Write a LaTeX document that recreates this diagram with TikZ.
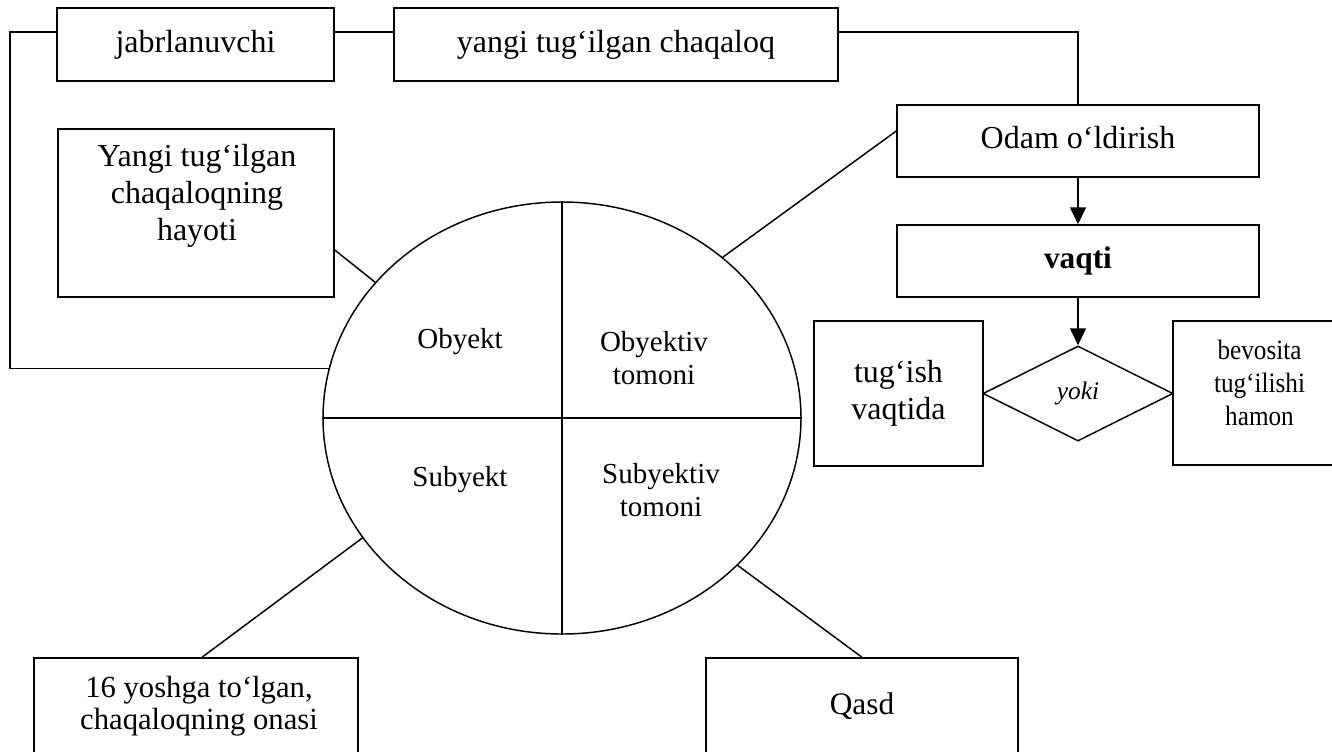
\documentclass[tikz,border=0pt]{standalone}
\usepackage{fontspec}
\setmainfont{Liberation Serif}
\newfontfamily\narrowfont[FakeStretch=0.9]{Liberation Serif}
\usetikzlibrary{shapes.geometric,arrows.meta,calc}

\tikzset{
  box/.style={draw, line width=1.1pt, inner sep=0pt, align=center, font=\fontsize{24}{28}\selectfont},
  oneline/.style={text height=16.8pt, text depth=5.5pt},
  boxtext/.style={inner sep=0pt, align=center, font=\fontsize{24}{28}\selectfont},
  parttext/.style={inner sep=0pt, align=center, font=\fontsize{21.75}{24.75}\selectfont},
  link/.style={line width=1.1pt},
  arr/.style={line width=1.1pt, -{Triangle[length=12.75pt, width=12pt]}}
}

\begin{document}
\begin{tikzpicture}[x=0.75pt,y=0.75pt,yscale=-1,xscale=1]
    \useasboundingbox (0,0) rectangle (1332,751);
    \clip (0,0) rectangle (1332,751);

    %Shape: Ellipse [id:circ]
    \node[draw, line width=1.1pt, ellipse, inner sep=0pt, minimum width=358.5pt, minimum height=324pt] (circ) at (562,418) {};
    %Straight Lines [id:quadrants]
    \draw[link] (circ.west) -- (circ.east);
    \draw[link] (circ.north) -- (circ.south);

    % Text Node
    \node[parttext] (obyekt) at (460,342) {Obyekt};
    % Text Node
    \node[parttext] (obtomon) at (654,358) {Obyektiv\\tomoni};
    % Text Node
    \node[parttext] (subyekt) at (460,480) {Subyekt};
    % Text Node
    \node[parttext] (subtomon) at (661,490) {Subyektiv\\tomoni};

    %Shape: Rectangle [id:jabr]
    \node[box, oneline, minimum width=207.75pt, minimum height=54.75pt] (jabr) at (195.5,44.5) {jabrlanuvchi};
    %Shape: Rectangle [id:yangi]
    \node[box, oneline, minimum width=333pt, minimum height=54.75pt] (yangi) at (616,44.5) {yangi tug‘ilgan chaqaloq};
    %Shape: Rectangle [id:odam]
    \node[box, oneline, minimum width=271.5pt, minimum height=54pt] (odam) at (1078,141) {Odam o‘ldirish};
    %Shape: Rectangle [id:vaqti]
    \node[box, oneline, minimum width=271.5pt, minimum height=54pt, font=\fontsize{23.5}{28}\selectfont\bfseries] (vaqti) at (1078,261) {vaqti};
    %Shape: Diamond [id:yoki]
    \node[draw, line width=1.1pt, diamond, inner sep=0pt, minimum width=142.5pt, minimum height=71.25pt, font=\fontsize{19}{22}\selectfont\itshape] (yoki) at (1078,393.5) {yoki};
    %Shape: Rectangle [id:tugish]
    \node[box, minimum width=126.75pt, minimum height=108.75pt] (tugish) at (898.5,393.5) {tug‘ish\\vaqtida};
    %Shape: Rectangle [id:bevosita]
    \node[box, minimum width=129pt, minimum height=108pt] (bevosita) at (1259,393) {};
    % Text Node
    \node[boxtext, font=\narrowfont\fontsize{21}{25}\selectfont] (bevositatxt) at (1259.5,383) {bevosita\\tug‘ilishi\\hamon};
    %Shape: Rectangle [id:hayoti]
    \node[box, minimum width=207pt, minimum height=126pt] (hayoti) at (196,213) {};
    % Text Node
    \node[boxtext] (hayotitxt) at (197,196) {Yangi tug‘ilgan\\chaqaloqning\\hayoti};
    %Shape: Rectangle [id:yosh]
    \node[box, minimum width=243pt, minimum height=76.5pt] (yosh) at (196,709) {};
    % Text Node
    \node[boxtext, font=\fontsize{23}{24}\selectfont] (yoshtxt) at (199,706) {16 yoshga to‘lgan,\\chaqaloqning onasi};
    %Shape: Rectangle [id:qasd]
    \node[box, oneline, font=\fontsize{23.5}{28}\selectfont, minimum width=234pt, minimum height=73.5pt] (qasd) at (862,707) {Qasd};

    %Straight Lines [id:top]
    \coordinate (bendl) at (10,32);
    \draw[link] (jabr.east |- bendl) -- (yangi.west |- bendl);
    \draw[link] (yangi.east |- bendl) -| (odam.north);
    \draw[link] (jabr.west |- bendl) -- (bendl) |- (circ.168);

    %Arrows [id:flow]
    \draw[arr] (odam) -- (vaqti);
    \draw[arr] (vaqti) -- (yoki.north);

    %Straight Lines [id:links]
    \draw[link] ($(hayoti.east)+(0,37)$) -- (circ.144);
    \draw[link] ($(odam.west)+(0,-10)$) -- (circ.45);
    \draw[link] ($(yosh.north)+(6,0)$) -- (circ.211);
    \draw[link] (qasd.north) -- (circ.320);

\end{tikzpicture}
\end{document}
